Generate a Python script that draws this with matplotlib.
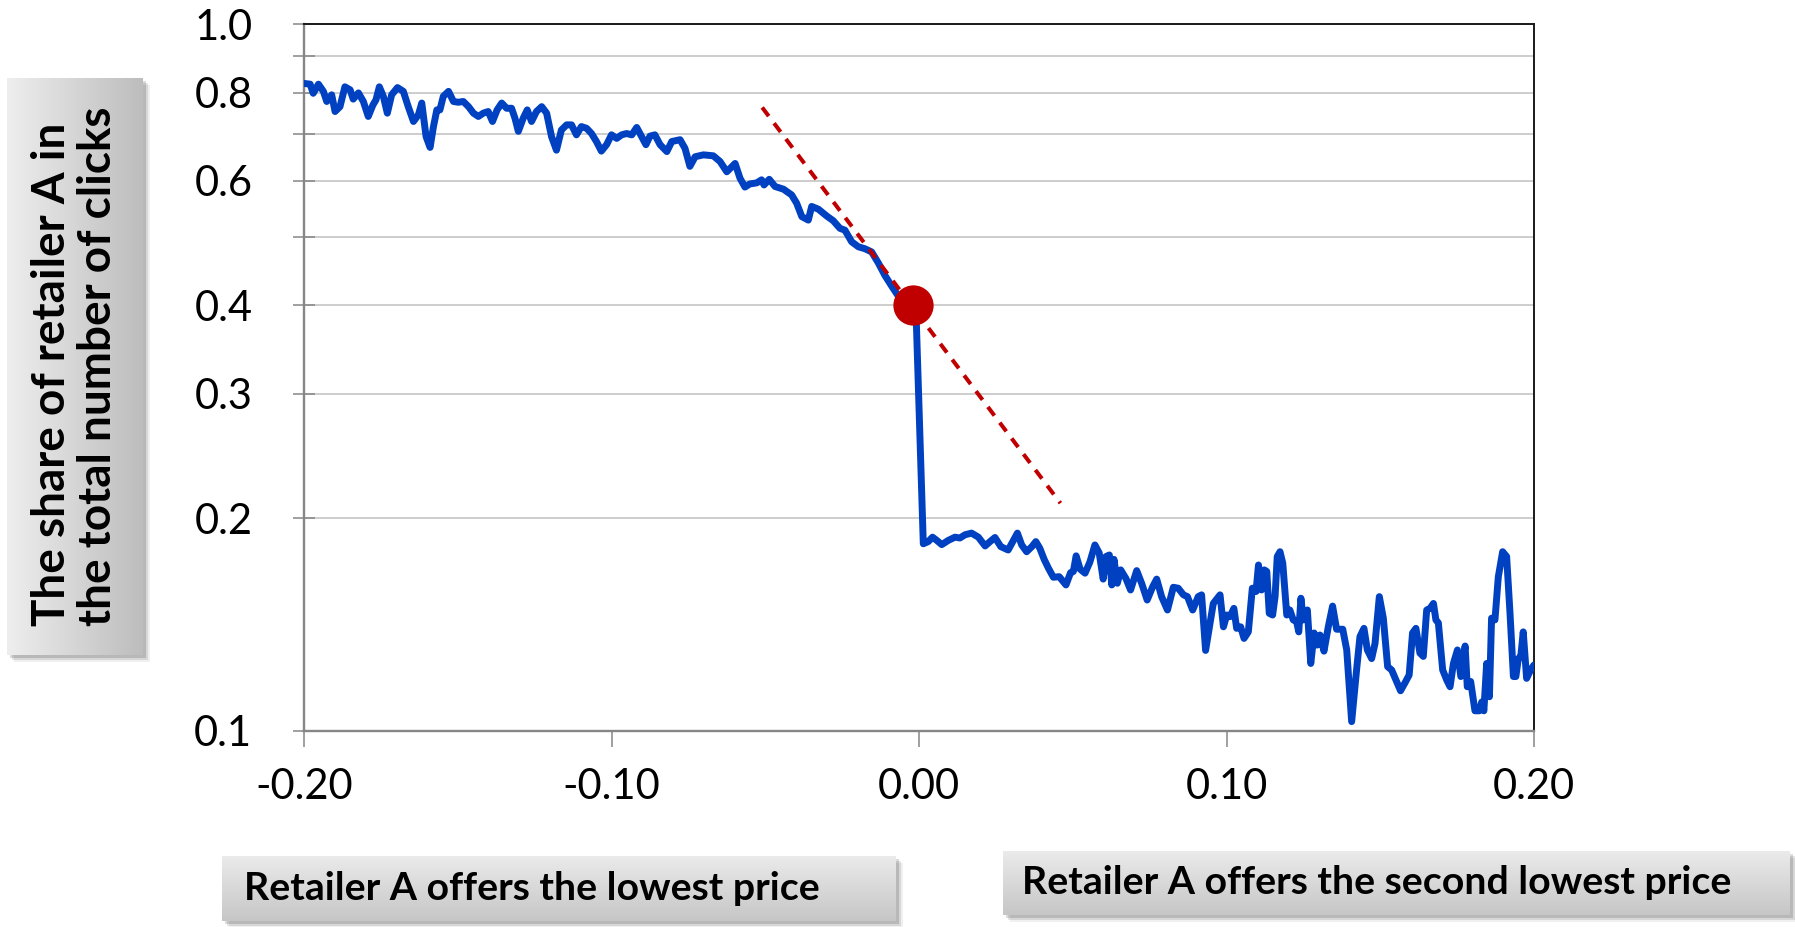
"""
Share of retailer A in total clicks vs. relative price difference.
Log-scaled share, with the tangent at the switching point (0.00) and
boxed annotations for the two price regimes.
"""
import numpy as np
import matplotlib
matplotlib.use("Agg")
import matplotlib.pyplot as plt
from matplotlib.colors import LinearSegmentedColormap
from matplotlib.patches import Rectangle
from matplotlib.ticker import NullLocator

W, H, DPI = 1795, 927, 100

# ---- Data ----
# Retailer A offers the lowest price (x < 0)
low_x = [
    -0.2000, -0.1980, -0.1970, -0.1953, -0.1937, -0.1926, -0.1910, -0.1899, -0.1883, -0.1867,
    -0.1850, -0.1840, -0.1823, -0.1807, -0.1791, -0.1776, -0.1766, -0.1755, -0.1742, -0.1729,
    -0.1715, -0.1696, -0.1677, -0.1661, -0.1644, -0.1628, -0.1617, -0.1603, -0.1590, -0.1579,
    -0.1568, -0.1558, -0.1547, -0.1530, -0.1514, -0.1498, -0.1482, -0.1465, -0.1449, -0.1433,
    -0.1417, -0.1401, -0.1387, -0.1372, -0.1357, -0.1341, -0.1325, -0.1314, -0.1303, -0.1287,
    -0.1274, -0.1260, -0.1244, -0.1227, -0.1211, -0.1195, -0.1179, -0.1163, -0.1146, -0.1130,
    -0.1114, -0.1098, -0.1081, -0.1065, -0.1049, -0.1033, -0.1016, -0.1000, -0.0983, -0.0967,
    -0.0951,
    -0.0934, -0.0918, -0.0902, -0.0888, -0.0875, -0.0859, -0.0842, -0.0820, -0.0804, -0.0777,
    -0.0761, -0.0745, -0.0728, -0.0701, -0.0669, -0.0647, -0.0625, -0.0598, -0.0582, -0.0566,
    -0.0550, -0.0528, -0.0512, -0.0504, -0.0487, -0.0468, -0.0441, -0.0414, -0.0398, -0.0381,
    -0.0360, -0.0349, -0.0327, -0.0300, -0.0279, -0.0257, -0.0241, -0.0219, -0.0197, -0.0176,
    -0.0154, -0.0132, -0.0111, -0.0089, -0.0067, -0.0010,
]
low_share = [
    0.824, 0.822, 0.798, 0.822, 0.803, 0.777, 0.794, 0.752, 0.764, 0.815,
    0.807, 0.783, 0.799, 0.777, 0.740, 0.768, 0.781, 0.815, 0.790, 0.748,
    0.794, 0.813, 0.803, 0.764, 0.728, 0.744, 0.773, 0.693, 0.669, 0.716,
    0.756, 0.756, 0.790, 0.803, 0.777, 0.775, 0.777, 0.764, 0.748, 0.740,
    0.748, 0.752, 0.728, 0.756, 0.773, 0.760, 0.760, 0.736, 0.705, 0.736,
    0.756, 0.728, 0.752, 0.764, 0.748, 0.693, 0.663, 0.708, 0.720, 0.720,
    0.697, 0.716, 0.712, 0.700, 0.682, 0.661, 0.675, 0.697, 0.689, 0.697,
    0.700,
    0.697, 0.714, 0.693, 0.675, 0.694, 0.697, 0.675, 0.660, 0.682, 0.686,
    0.667, 0.629, 0.649, 0.653, 0.651, 0.639, 0.618, 0.635, 0.605, 0.588,
    0.594, 0.596, 0.602, 0.592, 0.603, 0.589, 0.584, 0.573, 0.558, 0.534,
    0.528, 0.552, 0.547, 0.535, 0.527, 0.514, 0.511, 0.492, 0.484, 0.481,
    0.476, 0.459, 0.441, 0.426, 0.412, 0.395,
]

# Retailer A offers the second lowest price (x > 0)
second_x = [
    0.0014, 0.0030, 0.0044, 0.0058, 0.0074, 0.0095, 0.0117, 0.0133, 0.0150, 0.0171,
    0.0193, 0.0215, 0.0231, 0.0247, 0.0266, 0.0290, 0.0307, 0.0320, 0.0334, 0.0350,
    0.0367, 0.0380, 0.0393, 0.0407, 0.0421, 0.0437, 0.0456, 0.0478, 0.0493, 0.0502,
    0.0511, 0.0524, 0.0540, 0.0556, 0.0572, 0.0586, 0.0599, 0.0608, 0.0619, 0.0627,
    0.0634, 0.0645, 0.0656, 0.0673, 0.0688, 0.0708, 0.0724, 0.0742, 0.0760, 0.0773,
    0.0789, 0.0808, 0.0827, 0.0843, 0.0860, 0.0873, 0.0890, 0.0908, 0.0919, 0.0932,
    0.0957,
    0.0979, 0.0990, 0.1001, 0.1011, 0.1024, 0.1033, 0.1046, 0.1057, 0.1071, 0.1084,
    0.1096, 0.1104, 0.1114, 0.1123, 0.1131, 0.1139, 0.1150, 0.1158, 0.1165, 0.1174,
    0.1183, 0.1196, 0.1206, 0.1217, 0.1228, 0.1235, 0.1242, 0.1250, 0.1263, 0.1274,
    0.1285, 0.1295, 0.1304, 0.1317, 0.1331, 0.1345, 0.1358, 0.1378, 0.1391, 0.1407,
    0.1423, 0.1434, 0.1447, 0.1458, 0.1472, 0.1483, 0.1497, 0.1510, 0.1524, 0.1537,
    0.1553, 0.1566, 0.1580, 0.1594, 0.1605, 0.1616, 0.1629, 0.1640, 0.1651, 0.1662,
    0.1673, 0.1681, 0.1689, 0.1703, 0.1716, 0.1727, 0.1738, 0.1751, 0.1762, 0.1776,
    0.1783, 0.1794, 0.1808, 0.1822, 0.1830, 0.1837, 0.1846, 0.1855, 0.1862, 0.1873,
    0.1884, 0.1898, 0.1911, 0.1922, 0.1933, 0.1941, 0.1949, 0.1957, 0.1965, 0.1976,
    0.1989, 0.2000,
]
second_share = [
    0.1840, 0.1853, 0.1880, 0.1860, 0.1835, 0.1860, 0.1880, 0.1875, 0.1895, 0.1905,
    0.1880, 0.1827, 0.1853, 0.1878, 0.1823, 0.1803, 0.1860, 0.1905, 0.1833, 0.1793,
    0.1823, 0.1853, 0.1813, 0.1749, 0.1699, 0.1650, 0.1653, 0.1609, 0.1675, 0.1681,
    0.1769, 0.1694, 0.1672, 0.1735, 0.1833, 0.1786, 0.1640, 0.1765, 0.1774, 0.1609,
    0.1749, 0.1618, 0.1690, 0.1643, 0.1583, 0.1686, 0.1618, 0.1532, 0.1600, 0.1640,
    0.1549, 0.1483, 0.1597, 0.1592, 0.1558, 0.1549, 0.1483, 0.1549, 0.1558, 0.1300,
    0.1515,
    0.1558, 0.1404, 0.1459, 0.1451, 0.1491, 0.1397, 0.1404, 0.1352, 0.1381, 0.1592,
    0.1575, 0.1717, 0.1583, 0.1690, 0.1681, 0.1467, 0.1459, 0.1549, 0.1765, 0.1793,
    0.1727, 0.1459, 0.1483, 0.1436, 0.1428, 0.1381, 0.1541, 0.1436, 0.1483, 0.1246,
    0.1376, 0.1323, 0.1367, 0.1297, 0.1404, 0.1502, 0.1393, 0.1393, 0.1302, 0.1031,
    0.1220, 0.1360, 0.1397, 0.1302, 0.1266, 0.1330, 0.1549, 0.1444, 0.1233, 0.1220,
    0.1175, 0.1140, 0.1169, 0.1200, 0.1376, 0.1397, 0.1289, 0.1275, 0.1483, 0.1491,
    0.1515, 0.1436, 0.1422, 0.1220, 0.1181, 0.1155, 0.1246, 0.1302, 0.1194, 0.1319,
    0.1155, 0.1175, 0.1068, 0.1068, 0.1099, 0.1068, 0.1246, 0.1118, 0.1444, 0.1436,
    0.1653, 0.1793, 0.1765, 0.1467, 0.1194, 0.1194, 0.1266, 0.1275, 0.1381, 0.1187,
    0.1220, 0.1240,
]

# switching point and the tangent drawn through it
switch_x, switch_share = -0.002, 0.40
tangent_x = [-0.051, 0.046]
tangent_share = [0.762, 0.210]

x_ticks = [-0.20, -0.10, 0.00, 0.10, 0.20]
x_tick_labels = ["-0.20", "-0.10", "0.00", "0.10", "0.20"]
y_ticks = [0.1, 0.2, 0.3, 0.4, 0.5, 0.6, 0.7, 0.8, 0.9, 1.0]
y_tick_labels = ["0.1", "0.2", "0.3", "0.4", "", "0.6", "", "0.8", "", "1.0"]

y_title = "The share of retailer A in\nthe total number of clicks"
left_note = "Retailer A offers the lowest price"
right_note = "Retailer A offers the second lowest price"


def fig_rect(x0, y0, x1, y1):
    """pixel box (top-left origin) -> figure fraction [l, b, w, h]"""
    return [x0 / W, 1 - y1 / H, (x1 - x0) / W, (y1 - y0) / H]


def shaded_box(fig, box, light, dark, vertical):
    x0, y0, x1, y1 = box
    # soft drop shadow, bottom right
    for k, a in [(7, 0.06), (5, 0.10), (3, 0.14)]:
        l, b, w, h = fig_rect(x0 + k, y0 + k, x1 + k, y1 + k)
        fig.patches.append(Rectangle((l, b), w, h, transform=fig.transFigure,
                                     facecolor="black", alpha=a, lw=0, zorder=1))
    bax = fig.add_axes(fig_rect(*box), zorder=2)
    cmap = LinearSegmentedColormap.from_list("shade", [light, dark])
    grad = np.linspace(0, 1, 256)
    img = grad.reshape(-1, 1) if vertical else grad.reshape(1, -1)
    bax.imshow(img, cmap=cmap, aspect="auto", interpolation="bilinear")
    bax.set_axis_off()
    return bax


def main():
    plt.rcParams["font.family"] = ["Lato", "DejaVu Sans"]

    fig = plt.figure(figsize=(W / DPI, H / DPI), dpi=DPI)
    ax = fig.add_axes(fig_rect(304, 24, 1534, 731))

    ax.plot(low_x + second_x, low_share + second_share, color="#0041C2", lw=5.0,
            solid_joinstyle="round", solid_capstyle="round", zorder=3)
    ax.plot(tangent_x, tangent_share, color="#C00000", lw=2.9,
            ls=(0, (2.7, 2.2)), zorder=4)
    ax.plot([switch_x], [switch_share], "o", color="#C00000", ms=29, mew=0, zorder=5)

    ax.set_yscale("log")
    ax.set_xlim(-0.2, 0.2)
    ax.set_ylim(0.1, 1.0)
    ax.yaxis.set_minor_locator(NullLocator())
    ax.set_yticks(y_ticks, y_tick_labels)
    ax.set_xticks(x_ticks, x_tick_labels)
    ax.grid(axis="y", color="#C0C0C0", lw=1.1)
    ax.set_axisbelow(True)

    for side in ["left", "bottom"]:
        ax.spines[side].set_color("#868686")
        ax.spines[side].set_linewidth(1.7)
    for side in ["top", "right"]:
        ax.spines[side].set_color("#1A1A1A")
        ax.spines[side].set_linewidth(1.4)

    ax.tick_params(axis="y", direction="inout", length=16.5, width=1.1,
                   color="#868686", pad=29, labelsize=30)
    ax.tick_params(axis="x", direction="out", length=11.5, width=1.1,
                   color="#868686", pad=15, labelsize=30)

    # y title box, text rotated
    yb = shaded_box(fig, (7, 78, 143, 655), "#EEEEEE", "#BDBDBD", vertical=False)
    yb.text(0.5, 0.5, y_title, transform=yb.transAxes, rotation=90,
            ha="center", va="center", fontsize=33, fontweight="bold",
            linespacing=1.12, multialignment="left")

    lb = shaded_box(fig, (222, 856, 896, 921), "#EBEBEB", "#C6C6C6", vertical=True)
    lb.text(0.033, 0.5, left_note, transform=lb.transAxes, ha="left", va="center",
            fontsize=28.3, fontweight="bold")

    rb = shaded_box(fig, (1003, 851, 1790, 915), "#EBEBEB", "#C6C6C6", vertical=True)
    rb.text(0.024, 0.5, right_note, transform=rb.transAxes, ha="left", va="center",
            fontsize=28.3, fontweight="bold")

    fig.savefig("out.png", dpi=DPI)
    plt.close(fig)


if __name__ == "__main__":
    main()
